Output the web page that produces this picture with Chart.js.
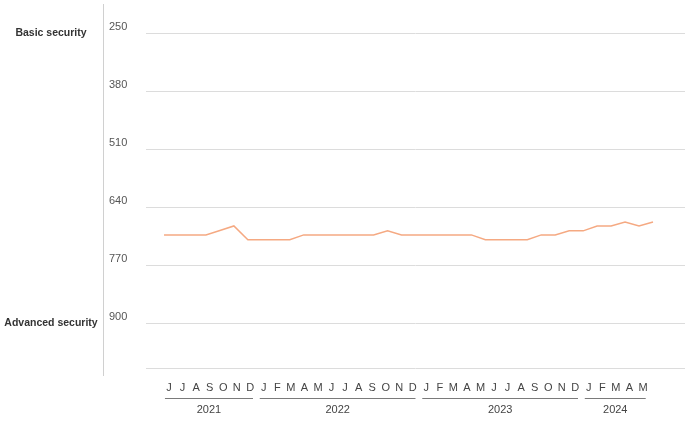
<!DOCTYPE html>
<html>
<head>
<meta charset="utf-8">
<script src="https://cdn.jsdelivr.net/npm/chart.js@4"></script>
<style>
  html, body { margin: 0; padding: 0; background: #fff; }
  #wrap { width: 691px; height: 422px; }
</style>
</head>
<body>
<div id="wrap"><canvas id="chart"></canvas></div>
<script>
// months from June 2021 to May 2024
const monthLabels = ['J','J','A','S','O','N','D',
  'J','F','M','A','M','J','J','A','S','O','N','D',
  'J','F','M','A','M','J','J','A','S','O','N','D',
  'J','F','M','A','M'];
const scores = [702, 702, 702, 702, 692, 682, 713,
  713, 713, 713, 702, 702, 702, 702, 702, 702, 693, 702,
  702, 702, 702, 702, 702, 713, 713, 713, 713, 702, 702,
  693, 693, 682, 682, 673, 682, 673];
const years = ['2021', '2022', '2023', '2024'];
const yearFirst = [0, 7, 19, 31];
const yearLast = [6, 18, 30, 35];
const yTicks = [250, 380, 510, 640, 770, 900];
const sideLabels = {250: 'Basic security', 900: 'Advanced security'};

const FONT = 'Liberation Sans, Arial, Helvetica, sans-serif';

// draws the separator, side labels and year brackets
const extras = {
  id: 'extras',
  afterDraw(chart) {
    const c = chart.ctx;
    const y = chart.scales.y;
    const xm = chart.scales.xm;
    c.save();
    c.strokeStyle = '#d0d0d0';
    c.lineWidth = 1;
    c.beginPath();
    c.moveTo(103.5, 4);
    c.lineTo(103.5, 376);
    c.stroke();

    c.fillStyle = '#333';
    c.font = 'bold 10.5px ' + FONT;
    c.textAlign = 'center';
    c.textBaseline = 'middle';
    Object.keys(sideLabels).forEach(function(v) {
      c.fillText(sideLabels[v], 51, y.getPixelForValue(+v));
    });

    c.strokeStyle = '#7a7a7a';
    c.fillStyle = '#444';
    c.font = '11px ' + FONT;
    years.forEach(function(yr, i) {
      const x0 = xm.getPixelForValue(yearFirst[i] - 0.3);
      const x1 = xm.getPixelForValue(yearLast[i] + 0.2);
      c.beginPath();
      c.moveTo(x0, 398.5);
      c.lineTo(x1, 398.5);
      c.stroke();
      c.fillText(yr, (x0 + x1) / 2, 410);
    });
    c.restore();
  }
};

new Chart(document.getElementById('chart'), {
  type: 'line',
  data: {
    datasets: [{
      data: scores.map(function(v, i) { return {x: i, y: v}; }),
      borderColor: '#f5a982',
      borderWidth: 1.5,
      pointRadius: 0,
      tension: 0,
      xAxisID: 'x',
      yAxisID: 'y'
    }]
  },
  options: {
    responsive: true,
    maintainAspectRatio: false,
    animation: false,
    layout: { padding: { left: 109, right: 6, top: 33, bottom: 0 } },
    plugins: { legend: { display: false }, tooltip: { enabled: false } },
    scales: {
      x: {
        type: 'linear',
        display: false,
        min: -1.29,
        max: 37.29
      },
      xm: {
        type: 'linear',
        position: 'bottom',
        min: -1.7,
        max: 38.1,
        grid: { display: false },
        border: { display: false },
        afterBuildTicks: function(scale) {
          scale.ticks = monthLabels.map(function(m, i) { return {value: i}; });
        },
        afterFit: function(scale) { scale.height = 54; },
        ticks: {
          autoSkip: false,
          maxRotation: 0,
          padding: 5,
          color: '#444',
          font: { family: FONT, size: 11 },
          callback: function(v) { return monthLabels[v]; }
        }
      },
      y: {
        reverse: true,
        min: 250,
        max: 1000,
        afterBuildTicks: function(scale) {
          scale.ticks = yTicks.concat([1000]).map(function(v) { return {value: v}; });
        },
        afterFit: function(scale) { scale.width = 37; },
        grid: { color: '#dcdcdc', drawTicks: false },
        border: { display: false },
        ticks: {
          crossAlign: 'far',
          padding: 8,
          labelOffset: -6,
          color: '#555',
          font: { family: FONT, size: 11 },
          callback: function(v) { return v === 1000 ? '' : v; }
        }
      }
    }
  },
  plugins: [extras]
});
</script>
</body>
</html>
